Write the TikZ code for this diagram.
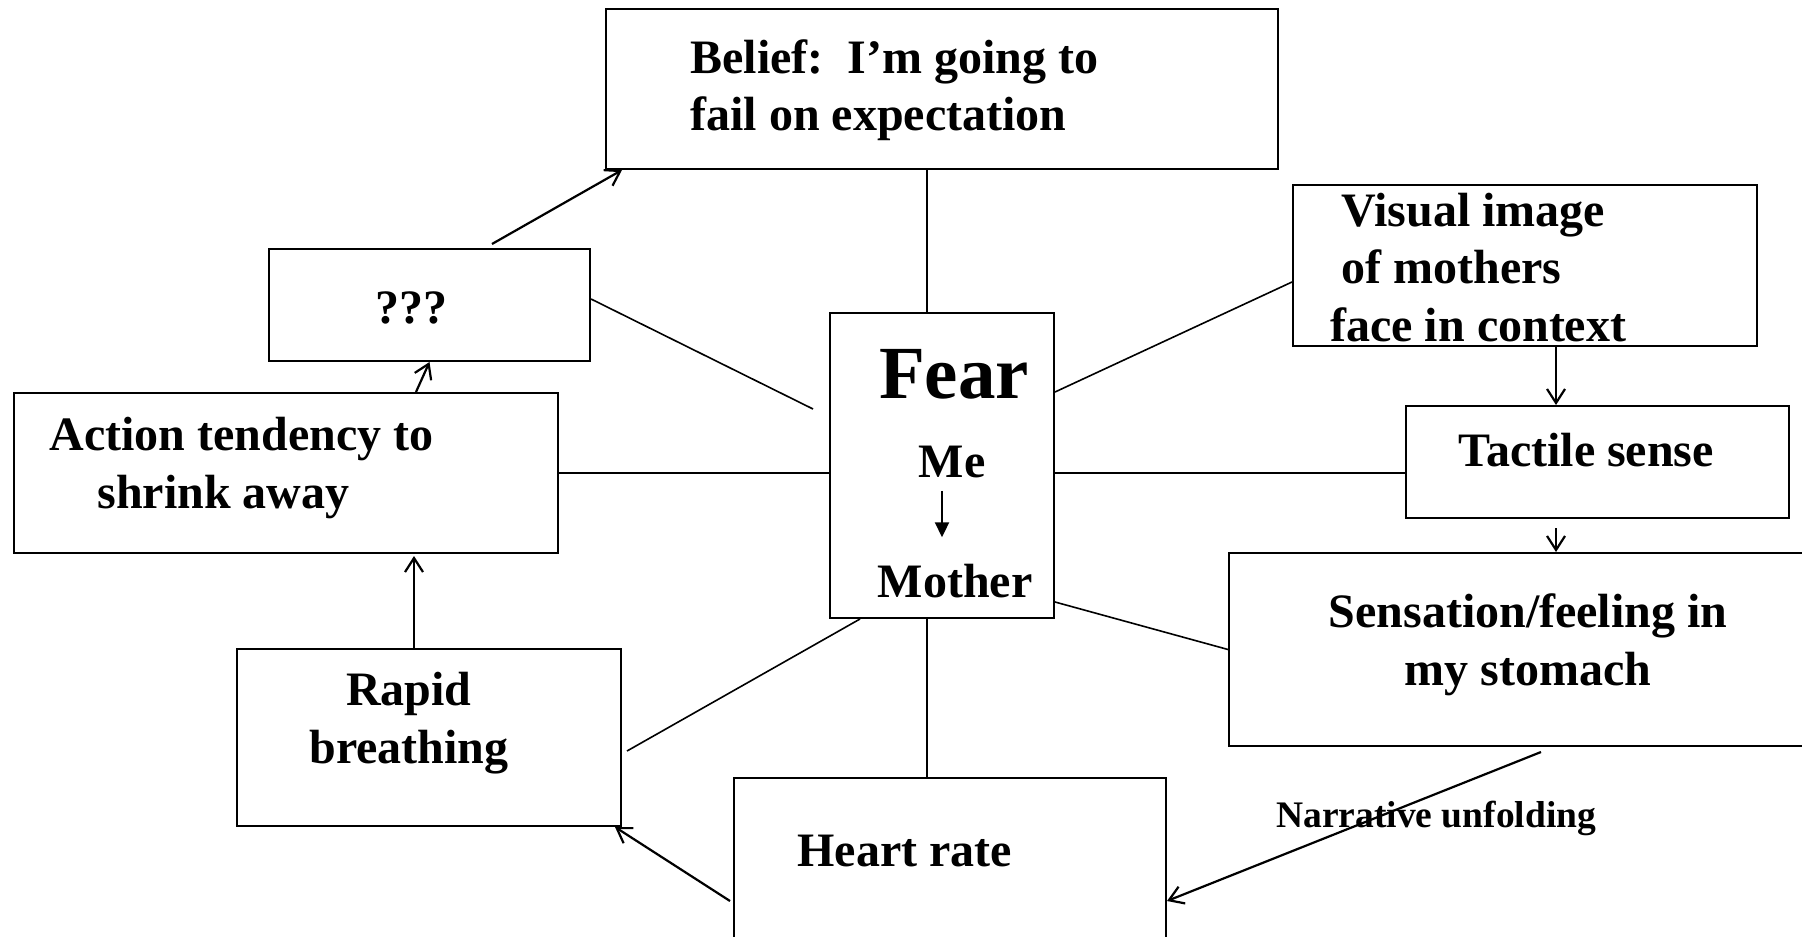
\documentclass[tikz,border=0pt]{standalone}
\usepackage{fontspec}
\setmainfont{Liberation Serif}
\usepackage{tikz}
\usetikzlibrary{arrows.meta,calc}

\begin{document}
\begin{tikzpicture}[x=0.5pt,y=-0.5pt,
  box/.style={draw,line width=1pt,inner sep=0pt},
  txt/.style={inner sep=0pt,font=\fontsize{24}{28.75}\selectfont\bfseries},
  conn/.style={line width=0.8pt},
  arr/.style={line width=1.1pt,-{Straight Barb[length=7pt,width=9pt]}}]
\clip (0,0) rectangle (1802,936);

% boxes
\node[box,minimum width=336pt,minimum height=80pt] (belief) at (942,89) {};
\node[box,minimum width=160.5pt,minimum height=56pt] (qq) at (429.5,305) {};
\node[box,minimum width=272pt,minimum height=80pt] (action) at (286,473) {};
\node[box,minimum width=112pt,minimum height=152.5pt] (fear) at (942,465.5) {};
\node[box,minimum width=232pt,minimum height=80.5pt] (visual) at (1525,265.5) {};
\node[box,minimum width=191.5pt,minimum height=56pt] (tactile) at (1597.5,462) {};
\node[box,minimum width=300.5pt,minimum height=96.5pt] (sensation) at (1529.5,649.5) {};
\node[box,minimum width=192pt,minimum height=88.5pt] (rapid) at (429,737.5) {};
\node[box,minimum width=216pt,minimum height=91pt] (heart) at (950,869) {};

% texts (multi-line: base = last line)
\node[txt,anchor=base west,align=left] (belieftxt) at (690,131) {Belief:\ \ I’m going to\\fail on expectation};
\node[txt,anchor=base] (qqtxt) at (411,323) {???};
\node[txt,anchor=base west,align=left] (actiontxt) at (49,508) {Action tendency to\\\hspace*{24pt}shrink away};
\node[txt,anchor=base west,align=left] (visualtxt) at (1330,341) {\hspace*{5.5pt}Visual image\\\hspace*{5.5pt}of mothers\\face in context};
\node[txt,font=\fontsize{37.5}{45}\selectfont\bfseries,anchor=base] (feartxt) at (954,398) {Fear};
\node[txt,anchor=base] (metxt) at (952,477) {Me};
\node[txt,anchor=base] (mothertxt) at (955,597) {Mother};
\node[txt,anchor=base west] (tactiletxt) at (1458,466) {Tactile sense};
\node[txt,anchor=base,align=center] (sensationtxt) at (1528,685) {Sensation/feeling in\\my stomach};
\node[txt,anchor=base,align=center] (rapidtxt) at (409,763) {Rapid\\breathing};
\node[txt,anchor=base west] (hearttxt) at (797,866) {Heart rate};
\node[txt,font=\fontsize{18.75}{22}\selectfont\bfseries,anchor=base west] (narrtxt) at (1276,827) {Narrative unfolding};

% spokes from fear
\draw[line width=1.1pt] ([xshift=-7.5pt]belief.south) -- ([xshift=-7.5pt]fear.north);
\draw[line width=1.1pt] ([xshift=-7.5pt]fear.south) -- ([xshift=-7.5pt]fear.south |- heart.north);
\draw[line width=1.4pt] (action.east) -- (action.east -| fear.west);
\draw[line width=1.4pt] (action.east -| fear.east) -- (action.east -| tactile.west);
\coordinate (qqend) at (813,409);
\draw[conn] ([yshift=3pt]qq.east) -- (qqend);
\draw[conn] ([yshift=-40pt]fear.north east) -- ([yshift=-8.25pt]visual.west);
\draw[conn] ([yshift=8.5pt]fear.south east) -- (sensation.west);
\coordinate (rapidend) at (627,751);
\draw[conn] ([xshift=15.5pt]fear.south west) -- (rapidend);
\draw[line width=1pt,-{Triangle[length=7.5pt,width=7pt]},shorten <=6.5pt,shorten >=13pt]
  ([xshift=-5pt]metxt.south) -- ([xshift=-6.5pt]mothertxt.north);

% arrows
\draw[arr] ([xshift=65pt]action.north) -- (qq.south);
\coordinate (qqtop) at (492,244);
\draw[arr] (qqtop) -- ([xshift=8.5pt]belief.south west);
\draw[arr,shorten >=1pt] ([xshift=-7.5pt]rapid.north) -- ([xshift=-7.5pt]rapid.north |- action.south);
\coordinate (heartleft) at (730,901);
\draw[arr] (heartleft) -- ([xshift=-3.5pt]rapid.south east);
\draw[arr] ([xshift=15.5pt]visual.south) -- ([xshift=15.5pt]visual.south |- tactile.north);
\draw[arr,shorten <=4.5pt] ([xshift=-20.75pt]tactile.south) -- ([xshift=-20.75pt]tactile.south |- sensation.north);
\coordinate (narrstart) at (1541,752);
\draw[arr] (narrstart) -- ([yshift=-62pt]heart.north east);
\end{tikzpicture}
\end{document}
